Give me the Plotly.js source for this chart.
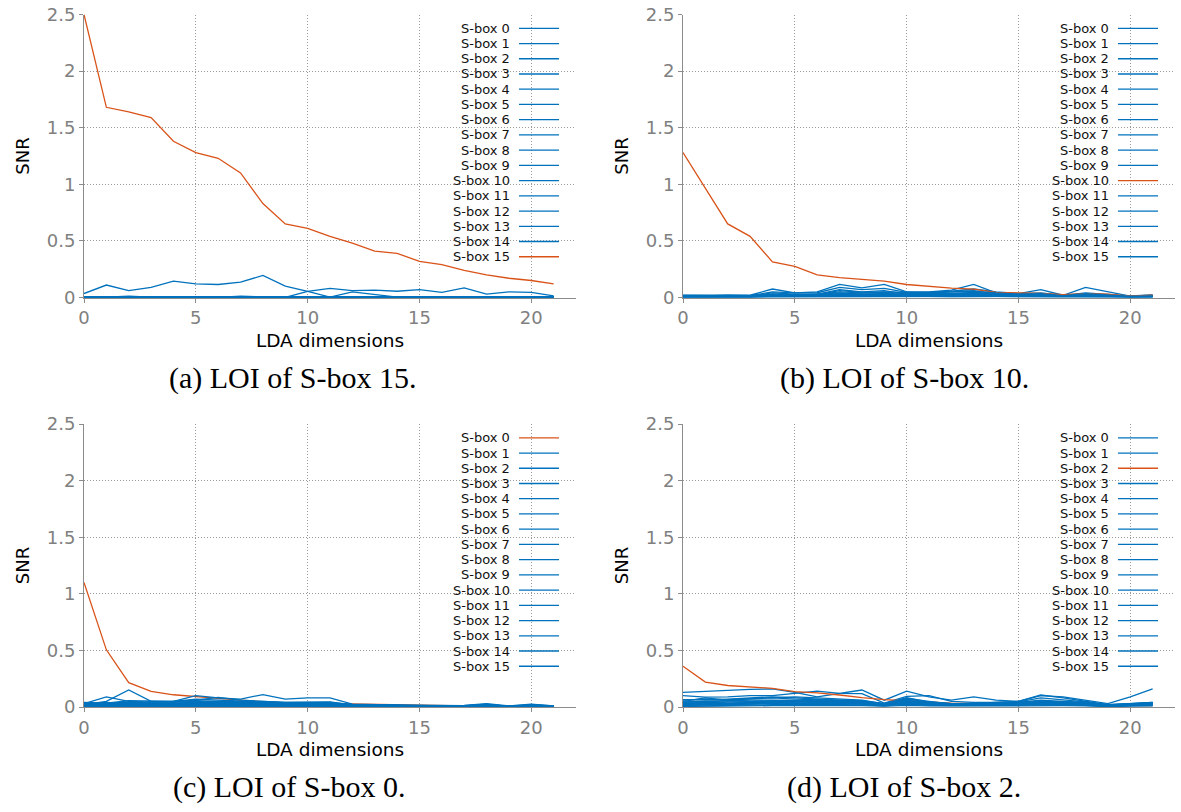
<!DOCTYPE html>
<html><head><meta charset="utf-8">
<script src="https://cdn.plot.ly/plotly-3.0.1.min.js"></script>
<style>html,body{margin:0;padding:0;background:#fff}#chart{width:1181px;height:812px}</style>
</head><body><div id="chart"></div>
<script>
const ldaDims = [0,1,2,3,4,5,6,7,8,9,10,11,12,13,14,15,16,17,18,19,20,21];
const sboxNames = ["S-box 0","S-box 1","S-box 2","S-box 3","S-box 4","S-box 5","S-box 6","S-box 7","S-box 8","S-box 9","S-box 10","S-box 11","S-box 12","S-box 13","S-box 14","S-box 15"];
const xTickVals = [0,5,10,15,20];
const yTickVals = [0,0.5,1,1.5,2,2.5];
const yTickText = ["0","0.5","1","1.5","2","2.5"];
const captions = ["(a) LOI of S-box 15.","(b) LOI of S-box 10.","(c) LOI of S-box 0.","(d) LOI of S-box 2."];
const loiSbox = [15,10,0,2];

// (a) LOI of S-box 15
const snrPanelA = [
 [0.002,0.003,0.004,0.002,0.001,0.003,0.002,0.004,0.003,0.002,0.001,0.002,0.003,0.002,0.001,0.002,0.003,0.002,0.001,0.002,0.001,0.002],
 [0.001,0.002,0.012,0.003,0.002,0.001,0.002,0.003,0.002,0.001,0.002,0.003,0.001,0.002,0.002,0.001,0.003,0.002,0.001,0.002,0.003,0.001],
 [0.003,0.001,0.002,0.002,0.003,0.002,0.001,0.012,0.004,0.003,0.002,0.001,0.002,0.003,0.001,0.002,0.001,0.003,0.002,0.001,0.002,0.002],
 [0.035,0.11,0.06,0.09,0.145,0.12,0.115,0.135,0.195,0.10,0.055,0.004,0.05,0.03,0.004,0.002,0.003,0.004,0.002,0.003,0.002,0.003],
 [0.002,0.001,0.003,0.002,0.002,0.004,0.003,0.002,0.001,0.002,0.003,0.002,0.004,0.002,0.003,0.001,0.002,0.002,0.003,0.002,0.001,0.002],
 [0.001,0.003,0.002,0.001,0.003,0.002,0.002,0.001,0.003,0.002,0.002,0.004,0.002,0.001,0.002,0.003,0.002,0.001,0.002,0.003,0.002,0.001],
 [0.004,0.002,0.001,0.003,0.002,0.001,0.003,0.002,0.002,0.004,0.001,0.002,0.003,0.002,0.004,0.002,0.001,0.002,0.003,0.001,0.002,0.003],
 [0.002,0.002,0.003,0.001,0.002,0.003,0.001,0.008,0.002,0.001,0.003,0.002,0.001,0.003,0.002,0.002,0.003,0.001,0.002,0.002,0.003,0.002],
 [0.001,0.002,0.002,0.004,0.001,0.002,0.002,0.003,0.001,0.002,0.002,0.001,0.002,0.004,0.003,0.001,0.002,0.003,0.001,0.002,0.002,0.001],
 [0.001,0.002,0.001,0.002,0.003,0.001,0.002,0.002,0.001,0.002,0.055,0.08,0.06,0.065,0.055,0.07,0.045,0.085,0.03,0.05,0.045,0.015],
 [0.003,0.002,0.008,0.002,0.001,0.002,0.004,0.002,0.003,0.001,0.002,0.003,0.002,0.001,0.003,0.002,0.002,0.004,0.002,0.001,0.003,0.002],
 [0.002,0.004,0.002,0.003,0.002,0.001,0.002,0.001,0.002,0.003,0.001,0.002,0.002,0.003,0.001,0.004,0.002,0.002,0.001,0.003,0.001,0.002],
 [0.001,0.001,0.003,0.002,0.004,0.002,0.003,0.002,0.001,0.002,0.004,0.001,0.003,0.002,0.002,0.001,0.003,0.002,0.004,0.002,0.002,0.003],
 [0.003,0.002,0.001,0.001,0.002,0.003,0.002,0.003,0.002,0.001,0.002,0.002,0.001,0.002,0.003,0.002,0.001,0.003,0.002,0.001,0.002,0.001],
 [0.002,0.003,0.002,0.003,0.001,0.002,0.001,0.002,0.004,0.002,0.003,0.002,0.002,0.001,0.002,0.003,0.002,0.001,0.003,0.002,0.001,0.002],
 [2.5,1.68,1.64,1.59,1.38,1.28,1.23,1.10,0.83,0.65,0.61,0.54,0.48,0.41,0.39,0.32,0.29,0.24,0.20,0.17,0.15,0.12]
];

// (b) LOI of S-box 10
const snrPanelB = [
 [0.02,0.022,0.018,0.02,0.075,0.04,0.05,0.115,0.085,0.115,0.05,0.05,0.065,0.115,0.04,0.035,0.07,0.02,0.09,0.05,0.012,0.02],
 [0.015,0.014,0.02,0.016,0.05,0.04,0.042,0.09,0.07,0.08,0.045,0.045,0.055,0.075,0.05,0.035,0.04,0.018,0.04,0.03,0.015,0.022],
 [0.012,0.01,0.015,0.012,0.04,0.03,0.03,0.07,0.05,0.06,0.03,0.04,0.045,0.06,0.03,0.03,0.03,0.02,0.03,0.02,0.01,0.015],
 [0.008,0.01,0.012,0.01,0.03,0.025,0.028,0.05,0.04,0.045,0.035,0.03,0.035,0.045,0.035,0.028,0.025,0.015,0.025,0.018,0.008,0.012],
 [0.005,0.006,0.008,0.007,0.02,0.018,0.02,0.035,0.03,0.03,0.025,0.025,0.03,0.03,0.025,0.02,0.02,0.012,0.02,0.015,0.006,0.01],
 [0.01,0.008,0.01,0.006,0.015,0.02,0.015,0.02,0.02,0.02,0.018,0.02,0.02,0.025,0.02,0.015,0.015,0.01,0.015,0.01,0.005,0.008],
 [0.004,0.005,0.006,0.004,0.012,0.01,0.012,0.015,0.012,0.014,0.012,0.015,0.012,0.018,0.015,0.012,0.01,0.008,0.012,0.008,0.004,0.006],
 [0.018,0.016,0.014,0.015,0.025,0.022,0.03,0.04,0.03,0.035,0.04,0.035,0.04,0.04,0.03,0.025,0.03,0.015,0.03,0.02,0.01,0.014],
 [0.003,0.004,0.003,0.005,0.008,0.006,0.008,0.01,0.009,0.01,0.008,0.01,0.009,0.012,0.01,0.008,0.007,0.006,0.008,0.006,0.003,0.005],
 [0.006,0.007,0.009,0.008,0.018,0.014,0.016,0.025,0.022,0.025,0.02,0.02,0.022,0.028,0.022,0.018,0.018,0.01,0.018,0.012,0.006,0.009],
 [1.28,0.96,0.65,0.54,0.315,0.275,0.20,0.176,0.158,0.144,0.115,0.097,0.082,0.074,0.046,0.04,0.036,0.025,0.033,0.03,0.012,0.02],
 [0.012,0.013,0.011,0.012,0.022,0.02,0.024,0.03,0.026,0.028,0.028,0.03,0.03,0.035,0.028,0.022,0.022,0.012,0.022,0.016,0.008,0.011],
 [0.002,0.003,0.002,0.003,0.005,0.004,0.005,0.007,0.006,0.007,0.006,0.007,0.006,0.008,0.007,0.005,0.005,0.004,0.006,0.004,0.002,0.003],
 [0.009,0.008,0.01,0.009,0.016,0.015,0.018,0.022,0.018,0.02,0.022,0.022,0.025,0.03,0.025,0.018,0.02,0.01,0.02,0.014,0.007,0.01],
 [0.014,0.012,0.013,0.011,0.028,0.026,0.025,0.06,0.045,0.05,0.042,0.04,0.05,0.055,0.04,0.03,0.035,0.016,0.035,0.025,0.009,0.013],
 [0.007,0.006,0.007,0.006,0.01,0.012,0.01,0.012,0.014,0.012,0.014,0.012,0.015,0.015,0.012,0.01,0.012,0.007,0.01,0.008,0.004,0.006]
];

// (c) LOI of S-box 0
const snrPanelC = [
 [1.10,0.505,0.215,0.138,0.108,0.09,0.077,0.06,0.048,0.036,0.033,0.03,0.022,0.02,0.016,0.012,0.01,0.01,0.012,0.008,0.01,0.008],
 [0.03,0.09,0.05,0.04,0.05,0.10,0.08,0.07,0.11,0.07,0.08,0.08,0.025,0.02,0.02,0.015,0.01,0.015,0.03,0.01,0.025,0.01],
 [0.02,0.05,0.15,0.05,0.05,0.06,0.085,0.06,0.05,0.04,0.04,0.04,0.02,0.015,0.015,0.01,0.01,0.01,0.02,0.008,0.02,0.01],
 [0.04,0.035,0.055,0.055,0.05,0.07,0.06,0.05,0.04,0.035,0.035,0.035,0.02,0.018,0.012,0.01,0.008,0.012,0.025,0.006,0.018,0.008],
 [0.025,0.03,0.04,0.045,0.04,0.05,0.045,0.04,0.035,0.03,0.03,0.03,0.018,0.015,0.012,0.008,0.008,0.01,0.02,0.005,0.015,0.006],
 [0.015,0.02,0.03,0.035,0.03,0.04,0.035,0.03,0.03,0.025,0.025,0.022,0.015,0.012,0.01,0.007,0.006,0.008,0.015,0.005,0.012,0.005],
 [0.01,0.015,0.02,0.025,0.022,0.03,0.03,0.025,0.022,0.02,0.02,0.018,0.012,0.01,0.008,0.006,0.005,0.007,0.012,0.004,0.01,0.004],
 [0.035,0.025,0.045,0.03,0.035,0.045,0.05,0.035,0.03,0.028,0.03,0.025,0.016,0.012,0.01,0.008,0.007,0.009,0.018,0.005,0.014,0.006],
 [0.006,0.01,0.015,0.015,0.015,0.02,0.02,0.018,0.015,0.014,0.015,0.012,0.01,0.008,0.006,0.005,0.004,0.005,0.01,0.003,0.008,0.003],
 [0.02,0.04,0.03,0.02,0.025,0.035,0.04,0.045,0.05,0.04,0.045,0.045,0.018,0.014,0.011,0.009,0.007,0.01,0.02,0.006,0.016,0.007],
 [0.004,0.006,0.008,0.01,0.01,0.012,0.012,0.012,0.01,0.01,0.01,0.009,0.007,0.006,0.005,0.004,0.003,0.004,0.008,0.002,0.006,0.002],
 [0.012,0.018,0.025,0.02,0.018,0.025,0.025,0.022,0.02,0.018,0.018,0.016,0.012,0.01,0.008,0.006,0.005,0.006,0.012,0.004,0.01,0.004],
 [0.008,0.012,0.012,0.018,0.015,0.015,0.018,0.015,0.014,0.012,0.012,0.012,0.008,0.007,0.006,0.005,0.004,0.005,0.009,0.003,0.007,0.003],
 [0.018,0.022,0.035,0.04,0.045,0.055,0.05,0.045,0.04,0.032,0.032,0.03,0.015,0.012,0.01,0.008,0.006,0.008,0.015,0.005,0.012,0.005],
 [0.003,0.004,0.005,0.006,0.006,0.008,0.008,0.007,0.006,0.006,0.006,0.006,0.005,0.004,0.003,0.003,0.002,0.003,0.005,0.002,0.004,0.002],
 [0.028,0.03,0.038,0.03,0.028,0.04,0.035,0.032,0.028,0.025,0.026,0.025,0.014,0.012,0.01,0.007,0.006,0.008,0.016,0.005,0.012,0.005]
];

// (d) LOI of S-box 2
const snrPanelD = [
 [0.13,0.14,0.145,0.155,0.16,0.13,0.09,0.12,0.15,0.06,0.14,0.09,0.06,0.09,0.06,0.05,0.10,0.09,0.06,0.03,0.09,0.16],
 [0.10,0.088,0.09,0.10,0.10,0.12,0.14,0.12,0.118,0.035,0.094,0.10,0.05,0.04,0.04,0.05,0.106,0.08,0.05,0.02,0.03,0.04],
 [0.36,0.22,0.19,0.175,0.165,0.135,0.124,0.106,0.082,0.065,0.053,0.041,0.035,0.03,0.025,0.022,0.02,0.02,0.018,0.015,0.01,0.012],
 [0.065,0.06,0.07,0.08,0.09,0.08,0.07,0.06,0.05,0.03,0.082,0.044,0.03,0.03,0.04,0.04,0.06,0.05,0.04,0.02,0.03,0.04],
 [0.044,0.05,0.05,0.06,0.06,0.06,0.055,0.05,0.04,0.025,0.06,0.035,0.025,0.03,0.035,0.035,0.045,0.04,0.035,0.015,0.025,0.035],
 [0.03,0.04,0.035,0.045,0.05,0.045,0.045,0.04,0.035,0.02,0.05,0.03,0.02,0.025,0.03,0.03,0.04,0.035,0.03,0.012,0.02,0.03],
 [0.02,0.03,0.025,0.035,0.04,0.035,0.04,0.035,0.03,0.018,0.04,0.025,0.018,0.02,0.025,0.025,0.035,0.03,0.025,0.01,0.018,0.025],
 [0.05,0.08,0.06,0.07,0.08,0.07,0.065,0.06,0.055,0.03,0.07,0.04,0.03,0.03,0.035,0.04,0.05,0.045,0.04,0.018,0.028,0.035],
 [0.012,0.02,0.018,0.025,0.03,0.028,0.03,0.028,0.025,0.015,0.032,0.02,0.015,0.018,0.02,0.02,0.028,0.025,0.02,0.008,0.015,0.02],
 [0.025,0.035,0.03,0.04,0.045,0.04,0.05,0.045,0.04,0.022,0.045,0.028,0.02,0.022,0.028,0.028,0.04,0.033,0.028,0.012,0.02,0.028],
 [0.008,0.012,0.012,0.015,0.02,0.02,0.022,0.02,0.018,0.01,0.025,0.015,0.012,0.014,0.015,0.015,0.02,0.018,0.015,0.006,0.012,0.015],
 [0.04,0.045,0.055,0.05,0.055,0.05,0.06,0.055,0.045,0.025,0.055,0.03,0.022,0.025,0.03,0.032,0.045,0.038,0.032,0.014,0.022,0.03],
 [0.005,0.008,0.008,0.01,0.012,0.012,0.014,0.012,0.012,0.007,0.015,0.01,0.008,0.01,0.01,0.01,0.014,0.012,0.01,0.004,0.008,0.01],
 [0.06,0.07,0.065,0.075,0.085,0.09,0.08,0.07,0.06,0.028,0.075,0.05,0.028,0.035,0.038,0.045,0.08,0.06,0.045,0.016,0.025,0.038],
 [0.015,0.025,0.022,0.03,0.035,0.03,0.035,0.03,0.028,0.016,0.035,0.022,0.016,0.016,0.022,0.022,0.03,0.028,0.022,0.009,0.016,0.022],
 [0.035,0.04,0.045,0.05,0.05,0.055,0.05,0.045,0.04,0.022,0.05,0.03,0.024,0.028,0.032,0.034,0.05,0.042,0.034,0.013,0.022,0.03]
];

const BLUE = '#0072bd', ORANGE = '#d95319';
const W = 1181, H = 812;
const px = v => v / W;
const py = v => 1 - v / H;

const panels = [
  {data: snrPanelA, hi: loiSbox[0], xa: 'x',  ya: 'y',  ox: 84,  oy: 297.5, cap: captions[0], cx: 292.5, cy: 378},
  {data: snrPanelB, hi: loiSbox[1], xa: 'x2', ya: 'y2', ox: 683, oy: 297.5, cap: captions[1], cx: 904,   cy: 378},
  {data: snrPanelC, hi: loiSbox[2], xa: 'x3', ya: 'y3', ox: 84,  oy: 707,   cap: captions[2], cx: 289,   cy: 787},
  {data: snrPanelD, hi: loiSbox[3], xa: 'x4', ya: 'y4', ox: 683, oy: 707,   cap: captions[3], cx: 904,   cy: 787}
];
const PW = 492, PH = 283;

const traces = [];
const shapes = [];
const annotations = [];
const layout = {
  width: W, height: H, margin: {l: 0, r: 0, t: 0, b: 0},
  paper_bgcolor: '#fff', plot_bgcolor: '#fff', showlegend: false,
  font: {family: 'DejaVu Sans'}
};

panels.forEach((p, k) => {
  p.data.forEach((vals, i) => {
    traces.push({
      type: 'scatter', mode: 'lines', x: ldaDims, y: vals, xaxis: p.xa, yaxis: p.ya,
      name: sboxNames[i], line: {color: i === p.hi ? ORANGE : BLUE, width: 1.3}, hoverinfo: 'skip'
    });
  });
  const n = k === 0 ? '' : String(k + 1);
  const top = p.oy - PH;
  layout['xaxis' + n] = {
    domain: [px(p.ox), px(p.ox + PW)], anchor: 'y' + n, range: [0, 22],
    tickmode: 'array', tickvals: xTickVals, ticktext: xTickVals.map(String),
    showgrid: true, gridcolor: '#9a9a9a', griddash: '1px,2px', gridwidth: 1,
    showline: true, linecolor: '#8c8c8c', linewidth: 1, zeroline: false,
    ticks: 'outside', ticklen: 4, tickcolor: '#8c8c8c',
    tickfont: {family: 'DejaVu Sans', size: 18, color: '#808080'},
    title: {text: 'LDA dimensions', font: {family: 'DejaVu Sans', size: 18.5, color: '#000'}, standoff: 6},
    fixedrange: true
  };
  layout['yaxis' + n] = {
    domain: [py(p.oy), py(top)], anchor: 'x' + n, range: [0, 2.5],
    tickmode: 'array', tickvals: yTickVals, ticktext: yTickText,
    showgrid: true, gridcolor: '#9a9a9a', griddash: '1px,2px', gridwidth: 1,
    showline: true, linecolor: '#8c8c8c', linewidth: 1, zeroline: false,
    ticks: 'outside', ticklen: 4, tickcolor: '#8c8c8c',
    tickfont: {family: 'DejaVu Sans', size: 18, color: '#808080'},
    title: {text: 'SNR', font: {family: 'DejaVu Sans', size: 18, color: '#000'}, standoff: 12},
    fixedrange: true
  };
  // legend background
  shapes.push({type: 'rect', xref: 'paper', yref: 'paper', layer: 'between',
    x0: px(p.ox + 358), x1: px(p.ox + 482), y0: py(top + 249.5), y1: py(top + 6.5),
    fillcolor: '#fff', line: {width: 0}});
  sboxNames.forEach((nm, i) => {
    const yy = top + 13.8 + i * 15.23;
    annotations.push({xref: 'paper', yref: 'paper', x: px(p.ox + 428), y: py(yy),
      xanchor: 'right', yanchor: 'middle', showarrow: false, text: nm,
      font: {family: 'DejaVu Sans', size: 13, color: '#111'}});
    shapes.push({type: 'line', xref: 'paper', yref: 'paper', layer: 'above',
      x0: px(p.ox + 435), x1: px(p.ox + 475), y0: py(yy), y1: py(yy),
      line: {color: i === p.hi ? ORANGE : BLUE, width: 1.3}});
  });
  annotations.push({xref: 'paper', yref: 'paper', x: px(p.cx), y: py(p.cy),
    xanchor: 'center', yanchor: 'middle', showarrow: false, text: p.cap,
    font: {family: 'Liberation Serif', size: 30, color: '#000'}});
});
layout.shapes = shapes;
layout.annotations = annotations;

Plotly.newPlot('chart', traces, layout, {displayModeBar: false, staticPlot: true});
</script>
</body></html>
